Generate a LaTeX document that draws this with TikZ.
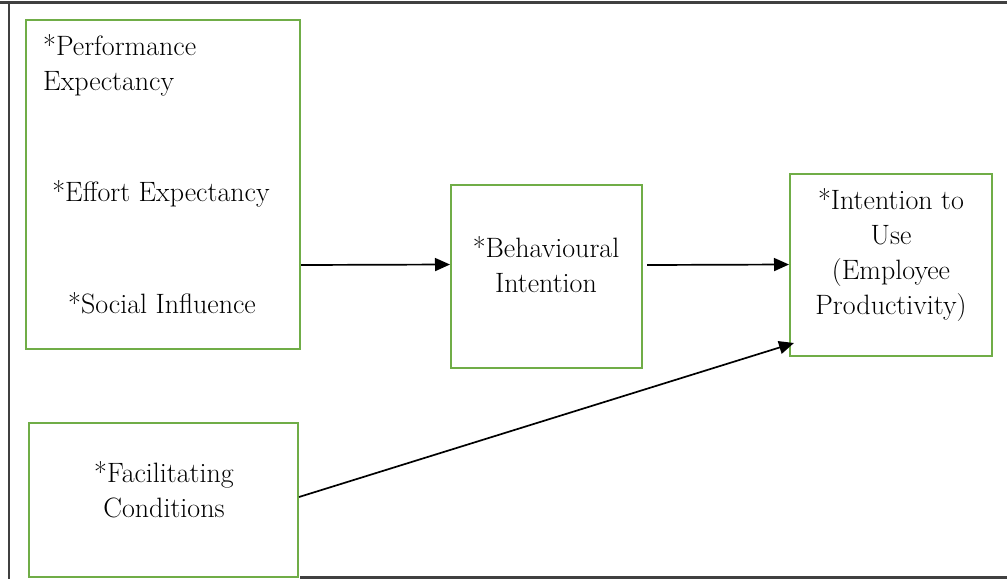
\documentclass[tikz,border=0pt]{standalone}
\usetikzlibrary{arrows.meta,calc}
\definecolor{boxgreen}{RGB}{112,173,71}
\begin{document}
\begin{tikzpicture}[x=1pt,y=-1pt,
  box/.style={draw=boxgreen,line width=2pt,rectangle,inner sep=0pt},
  txt/.style={font=\rmfamily\fontsize{28}{35}\selectfont,align=center,inner sep=0pt},
  arr/.style={draw=black,line width=1.7pt,-{Triangle[length=15pt,width=13pt]}},
  frame/.style={line width=2.5pt,black!75}
]
\useasboundingbox (0,0) rectangle (1007,579);
% outer frame
\draw[frame] (0,2.5) -- (1007,2.5);
\draw[frame] (9,2.5) -- (9,579);
\draw[frame] (300,577.5) -- (1007,577.5);
% boxes
\node[box,minimum width=274pt,minimum height=329pt] (ue) at (163,184.5) {};
\node[box,minimum width=191pt,minimum height=183pt] (bi) at (546.5,276.5) {};
\node[box,minimum width=202pt,minimum height=182pt] (iu) at (891,265) {};
\node[box,minimum width=269pt,minimum height=154pt] (fc) at (163.5,500) {};
% texts
\node[txt,align=left,anchor=west] (pe) at (43,65) {*Performance\\Expectancy};
\node[txt] (ee) at (161,194) {*Effort Expectancy};
\node[txt] (si) at (162,303) {*Social Influence};
\node[txt] (bt) at (546,264.5) {*Behavioural\\Intention};
\node[txt] (it) at (891,255) {*Intention to\\Use\\(Employee\\Productivity)};
\node[txt] (ft) at (164,489.5) {*Facilitating\\Conditions};
% connectors
\draw[arr] (ue.east |- 0,265) -- (bi.west |- 0,264.5);
\draw[arr] ([xshift=4pt]bi.east |- 0,265) -- (iu.west |- 0,264.5);
\draw[arr] ([yshift=3pt]fc.east) -- ([xshift=5pt,yshift=14pt]iu.south west);
\end{tikzpicture}
\end{document}
